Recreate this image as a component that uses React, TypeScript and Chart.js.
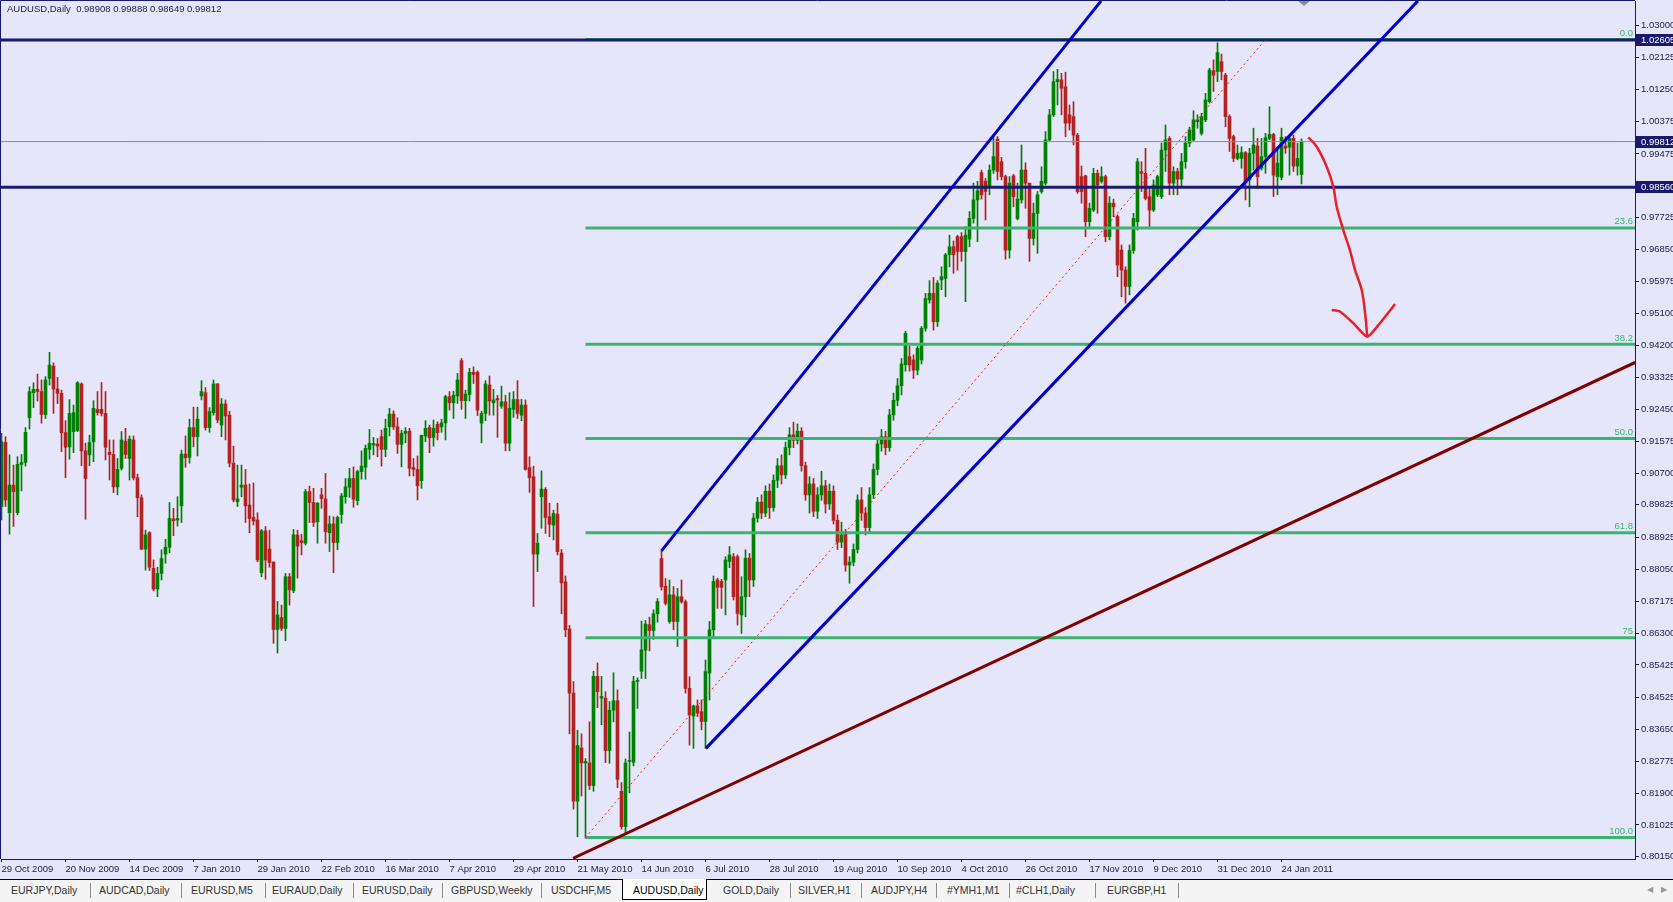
import React, { useEffect, useRef } from 'react';
import { Chart, registerables } from 'chart.js';

Chart.register(...registerables);

// ---------- data (daily bars, index 0 = 29 Oct 2009) ----------
const opens = [
  0.8978,0.9154,0.8961,0.9037,0.8961,0.9094,0.9099,0.9222,0.9291,0.9300,
  0.9294,0.9231,0.9330,0.9364,0.9301,0.9289,0.9181,0.9142,0.9184,0.9186,
  0.9315,0.9131,0.9120,0.9156,0.9245,0.9245,0.9234,0.9127,0.9121,0.9032,
  0.9083,0.9158,0.9110,0.9161,0.9057,0.9002,0.8861,0.8906,0.8808,0.8751,
  0.8794,0.8847,0.8866,0.8944,0.8941,0.8980,0.9122,0.9113,0.9195,0.9170,
  0.9282,0.9291,0.9195,0.9236,0.9315,0.9202,0.9260,0.9229,0.9097,0.8991,
  0.9031,0.9037,0.8982,0.8948,0.8941,0.8796,0.8911,0.8861,0.8825,0.8640,
  0.8673,0.8643,0.8785,0.8747,0.8900,0.8884,0.8877,0.9019,0.8989,0.8936,
  0.9010,0.8999,0.8906,0.8930,0.8879,0.8956,0.9005,0.9031,0.9055,0.8994,
  0.9074,0.9086,0.9135,0.9147,0.9150,0.9170,0.9135,0.9197,0.9232,0.9197,
  0.9149,0.9179,0.9185,0.9085,0.9080,0.9049,0.9172,0.9195,0.9168,0.9204,
  0.9197,0.9208,0.9280,0.9263,0.9282,0.9379,0.9269,0.9286,0.9347,0.9347,
  0.9207,0.9234,0.9312,0.9263,0.9275,0.9254,0.9266,0.9152,0.9245,0.9272,
  0.9229,0.9257,0.9085,0.9060,0.8847,0.9005,0.9025,0.8950,0.8927,0.8957,
  0.8850,0.8771,0.8641,0.8465,0.8168,0.8314,0.8273,0.8273,0.8211,0.8511,
  0.8451,0.8451,0.8307,0.8418,0.8444,0.8195,0.8098,0.8277,0.8275,0.8497,
  0.8525,0.8583,0.8653,0.8637,0.8683,0.8835,0.8759,0.8662,0.8735,0.8662,
  0.8730,0.8716,0.8478,0.8402,0.8430,0.8414,0.8387,0.8520,0.8639,0.8776,
  0.8772,0.8776,0.8827,0.8840,0.8840,0.8680,0.8730,0.8836,0.8776,0.8946,
  0.8990,0.8960,0.9020,0.8975,0.9050,0.9090,0.9065,0.9140,0.9175,0.9160,
  0.9185,0.9090,0.9010,0.9040,0.8965,0.9010,0.9035,0.8985,0.9020,0.8940,
  0.8880,0.8905,0.8817,0.8825,0.8860,0.8996,0.8960,0.8920,0.9010,0.9080,
  0.9150,0.9170,0.9140,0.9230,0.9270,0.9310,0.9368,0.9390,0.9381,0.9353,
  0.9381,0.9468,0.9546,0.9564,0.9486,0.9601,0.9605,0.9670,0.9692,0.9720,
  0.9720,0.9679,0.9713,0.9770,0.9821,0.9896,0.9872,0.9858,0.9903,0.9988,
  0.9926,0.9885,0.9683,0.9887,0.9770,0.9821,0.9903,0.9867,0.9715,0.9784,
  0.9844,0.9867,0.9986,1.0055,1.0146,1.0151,1.0132,1.0055,1.0050,0.9999,
  0.9885,0.9887,0.9761,0.9793,0.9894,0.9872,0.9885,0.9720,0.9812,0.9775,
  0.9683,0.9628,0.9583,0.9682,0.9761,0.9899,0.9894,0.9830,0.9793,0.9835,
  0.9830,0.9958,0.9990,0.9867,0.9899,0.9878,0.9926,0.9977,0.9986,1.0036,
  1.0004,1.0041,1.0091,1.0176,1.0174,1.0201,1.0164,1.0050,0.9995,0.9935,
  0.9935,0.9951,0.9876,0.9949,0.9969,0.9908,0.9940,0.9990,1.0001,0.9885,
  0.9883,0.9969,0.9966,0.9990,0.9914,0.98908
];
const highs = [
  0.9179,0.9170,0.9120,0.9092,0.9115,0.9121,0.9195,0.9307,0.9318,0.9342,
  0.9326,0.9335,0.9402,0.9373,0.9333,0.9298,0.9214,0.9272,0.9257,0.9321,
  0.9318,0.9152,0.9174,0.9269,0.9294,0.9319,0.9294,0.9161,0.9161,0.9110,
  0.9184,0.9193,0.9172,0.9172,0.9067,0.9010,0.8913,0.8909,0.8831,0.8811,
  0.8859,0.8888,0.8989,0.8973,0.9005,0.9133,0.9172,0.9218,0.9251,0.9251,
  0.9324,0.9305,0.9250,0.9326,0.9316,0.9275,0.9271,0.9240,0.9144,0.9092,
  0.9092,0.9080,0.9040,0.9043,0.8961,0.8915,0.8923,0.8913,0.8826,0.8717,
  0.8707,0.8794,0.8794,0.8915,0.8913,0.8902,0.9025,0.9034,0.9028,0.8989,
  0.9028,0.9069,0.8952,0.8950,0.8952,0.9014,0.9055,0.9083,0.9087,0.9078,
  0.9131,0.9147,0.9190,0.9168,0.9165,0.9188,0.9218,0.9248,0.9241,0.9222,
  0.9188,0.9195,0.9193,0.9110,0.9117,0.9174,0.9214,0.9202,0.9216,0.9211,
  0.9218,0.9284,0.9294,0.9295,0.9344,0.9385,0.9298,0.9358,0.9362,0.9351,
  0.9240,0.9324,0.9337,0.9300,0.9284,0.9309,0.9284,0.9291,0.9294,0.9324,
  0.9273,0.9271,0.9115,0.9089,0.8904,0.9076,0.9030,0.8987,0.8968,0.8987,
  0.8860,0.8787,0.8651,0.8497,0.8363,0.8353,0.8285,0.8386,0.8525,0.8548,
  0.8511,0.8469,0.8442,0.8521,0.8474,0.8219,0.8284,0.8358,0.8511,0.8507,
  0.8663,0.8665,0.8674,0.8694,0.8725,0.8856,0.8780,0.8776,0.8758,0.8753,
  0.8776,0.8721,0.8510,0.8432,0.8446,0.8446,0.8556,0.8662,0.8787,0.8781,
  0.8778,0.8840,0.8868,0.8849,0.8845,0.8785,0.8859,0.8849,0.8959,0.9003,
  0.9010,0.9035,0.9040,0.9065,0.9110,0.9120,0.9155,0.9195,0.9210,0.9205,
  0.9195,0.9100,0.9060,0.9055,0.9030,0.9075,0.9050,0.9040,0.9035,0.8955,
  0.8935,0.8915,0.8840,0.8875,0.9010,0.9030,0.8975,0.9030,0.9095,0.9165,
  0.9190,0.9185,0.9245,0.9290,0.9330,0.9385,0.9460,0.9420,0.9395,0.9418,
  0.9473,0.9564,0.9599,0.9608,0.9599,0.9637,0.9674,0.9724,0.9708,0.9724,
  0.9731,0.9747,0.9789,0.9867,0.9872,0.9903,0.9880,0.9917,0.9999,0.9995,
  0.9938,0.9889,0.9885,0.9891,0.9867,0.9972,0.9923,0.9867,0.9812,0.9844,
  0.9912,1.0009,1.0070,1.0174,1.0180,1.0169,1.0172,1.0082,1.0091,1.0004,
  0.9914,0.9889,0.9812,0.9908,0.9903,0.9912,0.9889,0.9830,0.9823,0.9780,
  0.9697,0.9637,0.9697,0.9784,0.9935,0.9926,0.9963,0.9853,0.9876,0.9889,
  0.9977,1.0027,0.9995,0.9912,0.9908,0.9949,0.9995,1.0021,1.0066,1.0055,
  1.0059,1.0114,1.0183,1.0206,1.0253,1.0222,1.0169,1.0055,0.9999,0.9972,
  0.9967,0.9954,0.9963,1.0018,0.9990,0.9990,1.0004,1.0077,1.0004,0.9967,
  1.0018,0.9995,0.9999,0.9999,0.9977,0.99888
];
const lows = [
  0.8941,0.8978,0.8902,0.8923,0.8955,0.9021,0.9089,0.9191,0.9250,0.9268,
  0.9207,0.9220,0.9312,0.9234,0.9261,0.9129,0.9057,0.9108,0.9126,0.9184,
  0.9090,0.8943,0.9090,0.9101,0.9229,0.9227,0.9106,0.9051,0.9016,0.9010,
  0.9078,0.9110,0.9051,0.9051,0.8950,0.8859,0.8803,0.8802,0.8746,0.8730,
  0.8776,0.8822,0.8851,0.8898,0.8924,0.8934,0.9086,0.9097,0.9142,0.9117,
  0.9271,0.9188,0.9182,0.9229,0.9208,0.9170,0.9161,0.9087,0.8991,0.8978,
  0.9005,0.8934,0.8906,0.8927,0.8826,0.8785,0.8778,0.8811,0.8602,0.8575,
  0.8637,0.8609,0.8707,0.8741,0.8781,0.8845,0.8872,0.8934,0.8923,0.8877,
  0.8973,0.8877,0.8854,0.8796,0.8859,0.8932,0.8987,0.9003,0.8976,0.8982,
  0.9053,0.9053,0.9108,0.9120,0.9115,0.9089,0.9115,0.9172,0.9190,0.9124,
  0.9087,0.9153,0.9062,0.9062,0.8996,0.9028,0.9156,0.9126,0.9144,0.9161,
  0.9182,0.9161,0.9243,0.9220,0.9261,0.9245,0.9220,0.9268,0.9316,0.9228,
  0.9153,0.9214,0.9229,0.9229,0.9168,0.9248,0.9131,0.9131,0.9223,0.9220,
  0.9214,0.9078,0.9017,0.8703,0.8799,0.8918,0.8904,0.8895,0.8886,0.8845,
  0.8683,0.8620,0.8353,0.8146,0.8070,0.8182,0.8066,0.8200,0.8195,0.8425,
  0.8378,0.8274,0.8272,0.8386,0.8205,0.8091,0.8079,0.8191,0.8265,0.8423,
  0.8505,0.8505,0.8581,0.8613,0.8660,0.8748,0.8707,0.8657,0.8639,0.8593,
  0.8712,0.8465,0.8322,0.8313,0.8400,0.8364,0.8313,0.8446,0.8620,0.8698,
  0.8698,0.8680,0.8810,0.8721,0.8652,0.8629,0.8675,0.8730,0.8758,0.8935,
  0.8945,0.8950,0.8945,0.8965,0.9030,0.9040,0.9055,0.9120,0.9140,0.9150,
  0.9075,0.8995,0.8960,0.8950,0.8945,0.8995,0.8960,0.8970,0.8930,0.8860,
  0.8865,0.8800,0.8767,0.8815,0.8850,0.8940,0.8900,0.8905,0.9000,0.9065,
  0.9130,0.9120,0.9130,0.9215,0.9255,0.9285,0.9350,0.9350,0.9330,0.9340,
  0.9370,0.9460,0.9537,0.9463,0.9473,0.9574,0.9555,0.9637,0.9619,0.9628,
  0.9652,0.9541,0.9692,0.9757,0.9706,0.9823,0.9766,0.9835,0.9894,0.9876,
  0.9876,0.9658,0.9661,0.9802,0.9766,0.9812,0.9798,0.9652,0.9697,0.9674,
  0.9839,0.9862,0.9981,1.0050,1.0082,1.0055,0.9995,1.0013,0.9972,0.9839,
  0.9812,0.9720,0.9747,0.9789,0.9784,0.9867,0.9706,0.9711,0.9775,0.9610,
  0.9555,0.9537,0.9560,0.9674,0.9738,0.9844,0.9821,0.9747,0.9789,0.9830,
  0.9825,0.9899,0.9835,0.9835,0.9835,0.9858,0.9908,0.9967,0.9981,1.0018,
  0.9999,1.0036,1.0087,1.0119,1.0146,1.0151,1.0022,0.9954,0.9926,0.9931,
  0.9908,0.9821,0.9802,0.9903,0.9853,0.9903,0.9894,0.9986,0.9830,0.9835,
  0.9876,0.9949,0.9889,0.9899,0.9889,0.98649
];
const closes = [
  0.9156,0.8996,0.9037,0.9019,0.9094,0.9099,0.9182,0.9294,0.9300,0.9294,
  0.9231,0.9326,0.9367,0.9301,0.9289,0.9181,0.9141,0.9234,0.9236,0.9318,
  0.9131,0.9055,0.9154,0.9248,0.9236,0.9234,0.9141,0.9121,0.9032,0.9080,
  0.9161,0.9121,0.9163,0.9057,0.9002,0.8861,0.8900,0.8811,0.8751,0.8794,
  0.8835,0.8866,0.8945,0.8939,0.8945,0.9122,0.9112,0.9195,0.9170,0.9218,
  0.9294,0.9195,0.9239,0.9315,0.9216,0.9260,0.9227,0.9097,0.8996,0.8999,
  0.9037,0.8980,0.8945,0.8938,0.8831,0.8911,0.8831,0.8824,0.8640,0.8680,
  0.8643,0.8785,0.8749,0.8900,0.8869,0.8879,0.9019,0.8989,0.8934,0.8987,
  0.9000,0.8909,0.8930,0.8879,0.8948,0.9007,0.9032,0.9055,0.8998,0.9074,
  0.9089,0.9138,0.9152,0.9151,0.9144,0.9135,0.9193,0.9232,0.9197,0.9149,
  0.9179,0.9185,0.9083,0.9080,0.9035,0.9174,0.9193,0.9167,0.9193,0.9181,
  0.9208,0.9280,0.9263,0.9284,0.9326,0.9269,0.9287,0.9347,0.9341,0.9243,
  0.9234,0.9315,0.9268,0.9271,0.9271,0.9266,0.9152,0.9248,0.9272,0.9234,
  0.9257,0.9080,0.9057,0.8847,0.8877,0.9026,0.8948,0.8929,0.8959,0.8854,
  0.8768,0.8639,0.8465,0.8168,0.8321,0.8273,0.8277,0.8211,0.8511,0.8469,
  0.8456,0.8307,0.8418,0.8444,0.8228,0.8098,0.8273,0.8280,0.8497,0.8500,
  0.8584,0.8655,0.8637,0.8683,0.8717,0.8757,0.8712,0.8735,0.8662,0.8730,
  0.8716,0.8478,0.8405,0.8430,0.8410,0.8387,0.8524,0.8639,0.8772,0.8756,
  0.8756,0.8831,0.8845,0.8730,0.8684,0.8730,0.8836,0.8776,0.8946,0.8990,
  0.8960,0.9020,0.8975,0.9050,0.9090,0.9065,0.9140,0.9175,0.9160,0.9185,
  0.9090,0.9010,0.9040,0.8965,0.9010,0.9035,0.8985,0.9020,0.8940,0.8880,
  0.8900,0.8817,0.8825,0.8860,0.8996,0.8960,0.8920,0.9010,0.9080,0.9150,
  0.9170,0.9140,0.9230,0.9270,0.9310,0.9370,0.9454,0.9367,0.9353,0.9413,
  0.9468,0.9550,0.9564,0.9486,0.9592,0.9610,0.9670,0.9692,0.9670,0.9679,
  0.9679,0.9724,0.9770,0.9821,0.9846,0.9835,0.9844,0.9903,0.9940,0.9899,
  0.9885,0.9683,0.9867,0.9830,0.9823,0.9903,0.9867,0.9715,0.9784,0.9835,
  0.9872,0.9986,1.0055,1.0146,1.0152,1.0128,1.0032,1.0032,0.9999,0.9844,
  0.9844,0.9761,0.9798,0.9894,0.9862,0.9885,0.9720,0.9812,0.9802,0.9642,
  0.9628,0.9583,0.9682,0.9770,0.9926,0.9894,0.9825,0.9793,0.9862,0.9885,
  0.9958,0.9986,0.9867,0.9899,0.9878,0.9926,0.9977,1.0013,1.0041,1.0041,
  1.0050,1.0096,1.0178,1.0164,1.0226,1.0174,1.0050,0.9990,0.9935,0.9949,
  0.9951,0.9867,0.9949,0.9972,0.9885,0.9940,0.9992,1.0001,0.9889,0.9922,
  0.9993,0.9963,0.9990,0.9914,0.9935,0.99812
];

const xTickBars = [0, 16, 32, 48, 64, 80, 96, 112, 128, 144, 160, 176, 192, 208, 224, 240, 256, 272, 288, 304, 320];
const xTickLabels = [
  '29 Oct 2009', '20 Nov 2009', '14 Dec 2009', '7 Jan 2010', '29 Jan 2010', '22 Feb 2010',
  '16 Mar 2010', '7 Apr 2010', '29 Apr 2010', '21 May 2010', '14 Jun 2010', '6 Jul 2010',
  '28 Jul 2010', '19 Aug 2010', '10 Sep 2010', '4 Oct 2010', '26 Oct 2010', '17 Nov 2010',
  '9 Dec 2010', '31 Dec 2010', '24 Jan 2011'
];
const yTickLabels = [
  '1.03000', '1.02125', '1.01250', '1.00375', '0.99475', '0.98600', '0.97725', '0.96850',
  '0.95975', '0.95100', '0.94200', '0.93325', '0.92450', '0.91575', '0.90700', '0.89825',
  '0.88925', '0.88050', '0.87175', '0.86300', '0.85425', '0.84525', '0.83650', '0.82775',
  '0.81900', '0.81025', '0.80150'
];

const fibLevels = [1.0262, 0.9744, 0.9424, 0.9165, 0.8906, 0.8617, 0.8068];
const fibNames = ['0.0', '23.6', '38.2', '50.0', '61.8', '75', '100.0'];
const fibStartBar = 146;
const fibTrend = [{ x: 146, y: 0.8068 }, { x: 316, y: 1.0262 }];
const levelLines = [1.02605, 0.9856];
const bidPrice = 0.99812;
const upperChannel = [{ x: 165, y: 0.8856 }, { x: 274.9, y: 1.0368 }];
const lowerChannel = [{ x: 176.1, y: 0.8313 }, { x: 354.1, y: 1.0368 }];
const supportLine = [{ x: 142.9, y: 0.8011 }, { x: 408.4, y: 0.9374 }];
const arrowCurve = [
  { x: 326.7, y: 0.9993 }, { x: 328.8, y: 0.9967 }, { x: 331.3, y: 0.9912 }, { x: 332.95, y: 0.9857 },
  { x: 333.8, y: 0.9802 }, { x: 335.45, y: 0.9738 }, { x: 337.1, y: 0.9683 }, { x: 338.4, y: 0.9628 },
  { x: 340.05, y: 0.9573 }, { x: 340.9, y: 0.9509 }, { x: 341.45, y: 0.9445 }
];
const arrowHead = [
  { x: 332.55, y: 0.9518 }, { x: 334.6, y: 0.9514 }, { x: 337.95, y: 0.9482 }, { x: 341.45, y: 0.9445 },
  { x: 344.6, y: 0.9482 }, { x: 348.4, y: 0.9535 }
];
const axisMarks = [1.02605, 0.99812, 0.9856];
const headerText = 'AUDUSD,Daily  0.98908 0.99888 0.98649 0.99812';

const tabNames = ['EURJPY,Daily', 'AUDCAD,Daily', 'EURUSD,M5', 'EURAUD,Daily', 'EURUSD,Daily', 'GBPUSD,Weekly',
  'USDCHF,M5', 'AUDUSD,Daily', 'GOLD,Daily', 'SILVER,H1', 'AUDJPY,H4', '#YMH1,M1', '#CLH1,Daily', 'EURGBP,H1'];
const activeTab = 'AUDUSD,Daily';

// ---------- layout / style ----------
const X_MIN = -0.125;
const X_MAX = 408.375;
const Y_MIN = 0.80089;
const Y_MAX = 1.03678;
const BG = '#E6E6FA';
const NAVY = '#191970';
const TEXT = '#1c1c48';
const BULL = '#008000';
const BEAR = '#B22222';
const FIB = '#3CB371';
const FONT_FAMILY = '"Liberation Sans", Arial, sans-serif';
const FONT_SIZE = 9.5;
const tabLeft = [11, 99, 191, 272, 362, 451, 551, 633, 723, 798, 871, 947, 1016, 1107];
const tabSeps = [90, 181, 265, 353, 442, 541, 790, 861, 936, 1009, 1095, 1178];
const activeBox = { left: 622, width: 85 };

const mt4Plugin = {
  id: 'mt4',
  beforeDraw(chart: any) {
    const { ctx, width, height } = chart;
    ctx.save();
    ctx.fillStyle = BG;
    ctx.fillRect(0, 0, width, height);
    ctx.restore();
  },
  afterDraw(chart: any) {
    const { ctx, chartArea: a, scales, width } = chart;
    const y = scales.y;
    ctx.save();
    ctx.strokeStyle = NAVY;
    ctx.lineWidth = 1;
    ctx.beginPath();
    ctx.moveTo(0.5, a.bottom);
    ctx.lineTo(0.5, 0.5);
    ctx.lineTo(a.right, 0.5);
    ctx.stroke();

    ctx.font = `${FONT_SIZE}px ${FONT_FAMILY}`;
    ctx.fillStyle = TEXT;
    ctx.textAlign = 'left';
    ctx.textBaseline = 'middle';
    ctx.fillText(headerText, 7, 9);

    ctx.fillStyle = FIB;
    ctx.textAlign = 'right';
    ctx.textBaseline = 'bottom';
    fibLevels.forEach((v, k) => {
      ctx.fillText(fibNames[k], a.right - 2, y.getPixelForValue(v) - 1.5);
    });

    axisMarks.forEach((v) => {
      const py = Math.round(y.getPixelForValue(v));
      ctx.fillStyle = NAVY;
      ctx.fillRect(a.right + 1, py - 6, width - a.right, 12);
      ctx.fillStyle = '#ffffff';
      ctx.textAlign = 'left';
      ctx.textBaseline = 'middle';
      ctx.fillText(v.toFixed(5), a.right + 6, py + 0.5);
    });

    ctx.fillStyle = '#8c8c9a';
    ctx.beginPath();
    ctx.moveTo(1298, 1);
    ctx.lineTo(1310, 1);
    ctx.lineTo(1304, 6);
    ctx.closePath();
    ctx.fill();
    ctx.restore();
  },
};

function lineDs(data: any[], color: string, width: number, order: number, extra: any = {}) {
  return {
    type: 'line',
    data,
    borderColor: color,
    borderWidth: width,
    pointRadius: 0,
    fill: false,
    tension: 0,
    order,
    ...extra,
  };
}

export default function App() {
  const ref = useRef<HTMLCanvasElement>(null);

  useEffect(() => {
    document.body.style.margin = '0';
    const canvas = ref.current;
    if (!canvas) return;
    const idx = opens.map((_, i) => i);
    const colors = idx.map((i) => (closes[i] >= opens[i] ? BULL : BEAR));

    const datasets: any[] = [
      {
        type: 'bar',
        data: idx.map((i) => ({ x: i, y: [lows[i], highs[i]] })),
        backgroundColor: colors,
        borderWidth: 0,
        barThickness: 1,
        grouped: false,
        order: 100,
      },
      {
        type: 'bar',
        data: idx.map((i) => ({ x: i, y: [opens[i], closes[i]] })),
        backgroundColor: colors,
        borderWidth: 0,
        barThickness: 3,
        minBarLength: 1,
        grouped: false,
        order: 99,
      },
      lineDs([{ x: X_MIN, y: bidPrice }, { x: X_MAX, y: bidPrice }], '#8a8a9c', 1, 60),
    ];
    fibLevels.forEach((v) => {
      datasets.push(lineDs([{ x: fibStartBar, y: v }, { x: X_MAX, y: v }], FIB, 3, 50));
    });
    levelLines.forEach((v) => {
      datasets.push(lineDs([{ x: X_MIN, y: v }, { x: X_MAX, y: v }], NAVY, 3, 40));
    });
    datasets.push(lineDs(fibTrend, '#ff1a1a', 1, 35, { borderDash: [2, 3] }));
    datasets.push(lineDs(supportLine, '#800000', 3, 30));
    datasets.push(lineDs(upperChannel, '#0000CD', 3, 20));
    datasets.push(lineDs(lowerChannel, '#0000CD', 3, 20));
    datasets.push(lineDs(arrowCurve, '#e8202b', 2.5, 10, { tension: 0.35 }));
    datasets.push(lineDs(arrowHead, '#e8202b', 2.5, 10, { tension: 0.2 }));

    const tickFont = { family: FONT_FAMILY, size: FONT_SIZE };

    const chart = new Chart(canvas, {
      type: 'bar',
      data: { datasets },
      options: {
        animation: false,
        responsive: false,
        devicePixelRatio: 1,
        events: [],
        layout: { padding: { left: 1, top: 1, right: 0, bottom: 0 } },
        plugins: { legend: { display: false }, tooltip: { enabled: false }, title: { display: false } },
        scales: {
          x: {
            type: 'linear',
            min: X_MIN,
            max: X_MAX,
            offset: false,
            grid: { display: true, drawOnChartArea: false, drawTicks: true, tickLength: 3, color: NAVY, offset: false },
            border: { display: true, color: NAVY, width: 1 },
            ticks: {
              autoSkip: false,
              maxRotation: 0,
              minRotation: 0,
              align: 'start',
              padding: 2,
              color: TEXT,
              font: tickFont,
              callback: (v: any) => {
                const k = xTickBars.indexOf(Number(v));
                return k >= 0 ? xTickLabels[k] : '';
              },
            },
            afterBuildTicks: (s: any) => {
              s.ticks = xTickBars.map((v) => ({ value: v }));
            },
            afterFit: (s: any) => {
              s.height = 20;
              s.paddingLeft = 0;
              s.paddingRight = 0;
              s.paddingTop = 0;
              s.paddingBottom = 0;
            },
          },
          y: {
            type: 'linear',
            position: 'right',
            min: Y_MIN,
            max: Y_MAX,
            grid: { display: true, drawOnChartArea: false, drawTicks: true, tickLength: 4, color: NAVY },
            border: { display: true, color: NAVY, width: 1 },
            ticks: {
              autoSkip: false,
              padding: 2,
              color: TEXT,
              font: tickFont,
              callback: (v: any) => {
                const t = yTickLabels.find((s) => Math.abs(parseFloat(s) - Number(v)) < 1e-9);
                return t || '';
              },
            },
            afterBuildTicks: (s: any) => {
              s.ticks = yTickLabels.map((t) => ({ value: parseFloat(t) })).sort((p, q) => p.value - q.value);
            },
            afterFit: (s: any) => {
              s.width = 38;
              s.paddingLeft = 0;
              s.paddingRight = 0;
              s.paddingTop = 0;
              s.paddingBottom = 0;
            },
          },
        },
      } as any,
      plugins: [mt4Plugin],
    } as any);
    return () => chart.destroy();
  }, []);

  return (
    <div style={{ position: 'absolute', left: 0, top: 0, width: 1673, height: 902, overflow: 'hidden', background: '#f4f4f4' }}>
      <canvas ref={ref} width={1673} height={879} style={{ display: 'block', width: 1673, height: 879 }} />
      <div
        style={{
          position: 'absolute', left: 0, top: 879, width: 1673, height: 23, boxSizing: 'border-box',
          borderTop: '1px solid #000', background: '#f4f4f4', fontFamily: FONT_FAMILY, fontSize: 10.5, color: '#333',
        }}
      >
        <div style={{ position: 'absolute', left: activeBox.left, top: -1, width: activeBox.width, height: 21, background: '#fff', border: '1px solid #000', borderTop: 'none', boxSizing: 'border-box' }} />
        {tabNames.map((n, k) => (
          <span key={n} style={{ position: 'absolute', left: tabLeft[k], top: 4, lineHeight: '13px', whiteSpace: 'nowrap', color: n === activeTab ? '#000' : '#333' }}>
            {n}
          </span>
        ))}
        {tabSeps.map((s) => (
          <div key={s} style={{ position: 'absolute', left: s, top: 3, width: 1, height: 15, background: '#8a8a8a' }} />
        ))}
        <span style={{ position: 'absolute', left: 1647, top: 5, fontSize: 8, color: '#999' }}>◀</span>
        <span style={{ position: 'absolute', left: 1661, top: 5, fontSize: 8, color: '#999' }}>▶</span>
      </div>
    </div>
  );
}
